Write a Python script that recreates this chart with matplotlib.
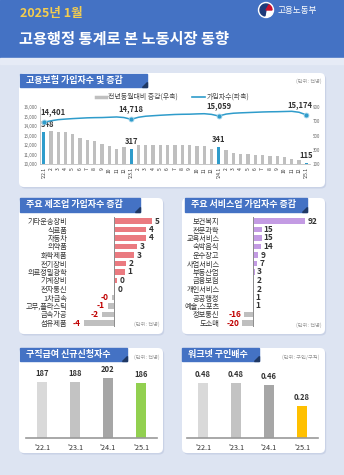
import numpy as np
import matplotlib.pyplot as plt
from matplotlib.patches import FancyBboxPatch, Rectangle, Polygon, Circle, Wedge

plt.rcParams['font.family'] = ['Noto Sans CJK KR', 'DejaVu Sans']

W, H = 344, 475

# ---- data ----
months = []
for yy in ['22', '23', '24']:
    months += ["'" + yy + ".1"] + [str(m) for m in range(2, 13)]
months += ["'25.1"]

subscribers = [14401, 14560, 14680, 14740, 14790, 14830, 14870, 14890, 14900, 14930, 14960, 14900,
               14718, 14930, 15040, 15090, 15140, 15180, 15220, 15240, 15250, 15280, 15300, 15230,
               15059, 15260, 15350, 15390, 15420, 15450, 15480, 15500, 15510, 15530, 15550, 15450,
               15174]
yoy_change = [548, 560, 552, 550, 520, 475, 435, 430, 380, 352, 320, 345,
              317, 375, 372, 370, 378, 378, 372, 372, 365, 362, 355, 315,
              341, 300, 262, 245, 240, 232, 228, 225, 215, 205, 180, 160,
              115]

mfg_names = ['기타운송장비', '식료품', '자동차', '의약품', '화학제품', '전기장비', '의료정밀광학',
             '기계장비', '전자통신', '1차금속', '고무,플라스틱', '금속가공', '섬유제품']
mfg_values = [5.0, 4.3, 4.2, 3.1, 2.6, 1.6, 1.4, 0.4, 0.1, -0.3, -0.8, -1.6, -4.0]

svc_names = ['보건복지', '전문과학', '교육서비스', '숙박음식', '운수창고', '사업서비스', '부동산업',
             '금융보험', '개인서비스', '공공행정', '예술,스포츠', '정보통신', '도소매']
svc_values = [92, 15, 15, 14, 9, 7, 3, 2, 2, 1, 1, -16, -20]

periods = ["'22.1", "'23.1", "'24.1", "'25.1"]
claimants = [187, 188, 202, 186]
job_ratio = [0.48, 0.48, 0.46, 0.28]

# ---- colors ----
BLUE = '#4472c4'
TEAL = '#2f9ccb'
GREY = '#bfbfbf'

fig = plt.figure(figsize=(W / 100, H / 100), dpi=100)
fig.patch.set_facecolor('#dde4f2')


def px_axes(x0, y0, x1, y1):
    return fig.add_axes([x0 / W, 1 - y1 / H, (x1 - x0) / W, (y1 - y0) / H])


bg = fig.add_axes([0, 0, 1, 1])
bg.set_xlim(0, W)
bg.set_ylim(H, 0)
bg.axis('off')
bg.set_zorder(0)

# header
bg.add_patch(Rectangle((0, 0), W, 58, color=BLUE, zorder=1))
bg.add_patch(Rectangle((0, 58), W, 6, color='#e6ebf6', zorder=1))
bg.text(20, 13, '2025년 1월', color='#f4cd4f', fontsize=9, fontweight='bold', va='center', zorder=2)
bg.text(19, 39, '고용행정 통계로 본 노동시장 동향', color='white', fontsize=11,
        fontweight='bold', va='center', zorder=2)
bg.add_patch(Circle((266, 10), 7.5, color='white', zorder=2))
bg.add_patch(Wedge((266, 10), 6, 100, 300, color='#1f3a7a', zorder=3))
bg.add_patch(Wedge((266, 10), 6, 300, 360, color='#c8102e', zorder=3))
bg.text(278, 11, '고용노동부', color='white', fontsize=6.2, va='center', zorder=2)


def panel(x0, y0, x1, y1):
    bg.add_patch(FancyBboxPatch((x0 + 1.2, y0 + 1.5), x1 - x0, y1 - y0,
                                boxstyle='round,pad=0,rounding_size=5',
                                fc='#c9d2e6', ec='none', zorder=1))
    bg.add_patch(FancyBboxPatch((x0, y0), x1 - x0, y1 - y0,
                                boxstyle='round,pad=0,rounding_size=5',
                                fc='white', ec='none', zorder=2))


def tab(x0, y0, x1, y1, text):
    bg.add_patch(Rectangle((x0, y0), x1 - x0, y1 - y0, color=BLUE, zorder=3))
    bg.add_patch(Polygon([(x1 - 5, y1), (x1, y1), (x1, y1 - 5)], color='#1f3864', zorder=4))
    bg.text(x0 + 6, (y0 + y1) / 2, text, color='white', fontsize=6.5,
            fontweight='bold', va='center', zorder=5)


def unit(x, y, text):
    bg.text(x, y, text, color='#9a9a9a', fontsize=3.8, ha='right', va='center', zorder=5)


panel(19, 73, 325, 187)
tab(20, 74, 147, 87, '고용보험 가입자수 및 증감')
unit(322, 81, '(단위: 천명)')

panel(19, 198, 163, 334)
tab(20, 198, 140, 212, '주요 제조업 가입자수 증감')
unit(160, 324, '(단위: 천명)')

panel(182, 198, 325, 334)
tab(185, 198, 307, 212, '주요 서비스업 가입자수 증감')
unit(322, 325, '(단위: 천명)')

panel(19, 348, 163, 453)
tab(20, 348, 127, 361, '구직급여 신규신청자수')
unit(160, 357, '(단위: 천명)')

panel(182, 348, 325, 453)
tab(182, 348, 259, 361, '워크넷 구인배수')
unit(320, 357, '(단위: 구인/구직)')

# legend of top chart
bg.plot([96, 106], [97, 97], color=GREY, lw=2.5, zorder=5)
bg.text(108, 97, '전년동월대비 증감(우축)', fontsize=5, color='#444', va='center', zorder=5)
bg.plot([192, 205], [97, 97], color=TEAL, lw=1.2, zorder=5)
bg.text(207, 97, '가입자수(좌축)', fontsize=5, color='#444', va='center', zorder=5)

# ---- top chart ----
x = np.arange(len(months))
jan = [i for i, m in enumerate(months) if m.startswith("'")]
ax_bar = px_axes(40, 107, 310, 164.5)
ax_bar.set_zorder(2)
ax_bar.patch.set_alpha(0)
bar_colors = [TEAL if i in jan else GREY for i in x]
ax_bar.bar(x, yoy_change, width=0.45, color=bar_colors)
ax_bar.set_ylim(100, 900)
ax_bar.set_yticks([100, 300, 500, 700, 900])
ax_bar.set_xlim(-0.5, len(months) - 0.5)
ax_bar.set_xticks(x)
ax_bar.set_xticklabels(months, rotation=90, fontsize=3.6, color='#333')
ax_bar.tick_params(length=0, pad=2)
for s in ['top', 'right']:
    ax_bar.spines[s].set_visible(False)
for s in ['left', 'bottom']:
    ax_bar.spines[s].set_color('#bfbfbf')
    ax_bar.spines[s].set_linewidth(0.6)
for i in jan:
    if i == 0:
        ax_bar.annotate(str(yoy_change[i]), (i, yoy_change[i]), xytext=(-3, 3),
                        textcoords='offset pixels', ha='left', va='bottom',
                        fontsize=5.5, fontweight='bold', color='#333')
    else:
        ax_bar.annotate(str(yoy_change[i]), (i, yoy_change[i]), xytext=(0, 3),
                        textcoords='offset pixels', ha='center', va='bottom',
                        fontsize=5.5, fontweight='bold', color='#333')

ax_line = ax_bar.twinx()
ax_line.set_zorder(3)
ax_line.plot(x, subscribers, color=TEAL, lw=1.1)
ax_line.plot(jan, [subscribers[i] for i in jan], 'o', color=TEAL, ms=3.5,
             mec='#9fd3ea', mew=0.6)
ax_line.set_ylim(10000, 16000)
ax_line.set_yticks(range(10000, 16001, 1000))
ax_line.set_yticklabels([f'{v:,}' for v in range(10000, 16001, 1000)])
ax_line.yaxis.tick_left()
ax_line.tick_params(length=0, labelsize=3.2, labelcolor='#666', pad=2)
for s in ax_line.spines.values():
    s.set_visible(False)
# twinx moves the original ticks to the left; put the bar scale back on the right
ax_bar.yaxis.tick_right()
ax_bar.tick_params(axis='y', length=0, labelsize=3.2, labelcolor='#666', pad=2)
for k, i in enumerate(jan):
    dx = -3 if k == 0 else (-6 if k == 3 else 0)
    ha = 'left' if k == 0 else 'center'
    ax_line.annotate(f'{subscribers[i]:,}', (i, subscribers[i]), xytext=(dx, 6),
                     textcoords='offset pixels', ha=ha, va='bottom',
                     fontsize=5.5, fontweight='bold', color='#333')

# ---- manufacturing ----
yy = np.arange(len(mfg_names))
ax2 = px_axes(70, 216.75, 160, 327.25)
ax2.set_zorder(2)
ax2.patch.set_alpha(0)
ax2.barh(yy, mfg_values, height=0.7,
         color=['#ea7a80' if v > 0 else GREY for v in mfg_values])
ax2.set_xlim(-44 / 7.5, 46 / 7.5)
ax2.set_ylim(len(mfg_names) - 0.5, -0.5)
ax2.axvline(0, color='#8c8c8c', lw=0.7)
ax2.set_yticks(yy)
ax2.set_yticklabels(mfg_names, fontsize=5.2, color='#333')
ax2.set_xticks([])
ax2.tick_params(length=0, pad=2)
for s in ax2.spines.values():
    s.set_visible(False)
for i, v in enumerate(mfg_values):
    lab = '%.0f' % v
    if v >= 0:
        ax2.text(v + 0.4, i, lab, ha='left', va='center', fontsize=6,
                 fontweight='bold', color='#333')
    else:
        ax2.text(v - 0.4, i, lab, ha='right', va='center', fontsize=6,
                 fontweight='bold', color='#c00000')

# ---- services ----
ax3 = px_axes(225, 216.75, 322, 327.25)
ax3.set_zorder(2)
ax3.patch.set_alpha(0)
sc = 0.57
ax3.barh(yy, svc_values, height=0.7,
         color=['#c39be3' if v > 0 else GREY for v in svc_values])
ax3.set_xlim((225 - 253) / sc, (322 - 253) / sc)
ax3.set_ylim(len(svc_names) - 0.5, -0.5)
ax3.axvline(0, color='#8c8c8c', lw=0.7)
ax3.set_yticks(yy)
ax3.set_yticklabels(svc_names, fontsize=5.2, color='#333')
ax3.set_xticks([])
ax3.tick_params(length=0, pad=4)
for s in ax3.spines.values():
    s.set_visible(False)
for i, v in enumerate(svc_values):
    if v >= 0:
        ax3.text(v + 4, i, str(v), ha='left', va='center', fontsize=6,
                 fontweight='bold', color='#333')
    else:
        ax3.text(v - 4, i, str(v), ha='right', va='center', fontsize=6,
                 fontweight='bold', color='#c00000')


# ---- bottom bar charts ----
def small_bars(ax, values, top_color, ymax, fmt):
    ax.set_zorder(2)
    ax.patch.set_alpha(0)
    xs = np.arange(len(values))
    ax.bar(xs, values, width=0.33, color=['#d9d9d9', '#c3c3c3', '#a6a6a6', top_color])
    ax.set_xlim(-0.485, 3.485)
    ax.set_ylim(0, ymax)
    ax.set_xticks(xs)
    ax.set_xticklabels(periods, fontsize=5.2, color='#333')
    ax.set_yticks([])
    ax.tick_params(length=0, pad=4.5)
    for s in ['top', 'right', 'left']:
        ax.spines[s].set_visible(False)
    ax.spines['bottom'].set_color('#999999')
    ax.spines['bottom'].set_linewidth(1.2)
    for i, v in enumerate(values):
        ax.annotate(fmt % v, (i, v), xytext=(0, 4), textcoords='offset pixels',
                    ha='center', va='bottom', fontsize=5.5, fontweight='bold', color='#333')


ax4 = px_axes(26, 370, 157, 438)
small_bars(ax4, claimants, '#92d050', 229, '%d')
ax5 = px_axes(187, 370, 318, 438)
small_bars(ax5, job_ratio, '#ffc000', 0.593, '%.2f')

fig.savefig('out.png', dpi=100, facecolor=fig.get_facecolor())
